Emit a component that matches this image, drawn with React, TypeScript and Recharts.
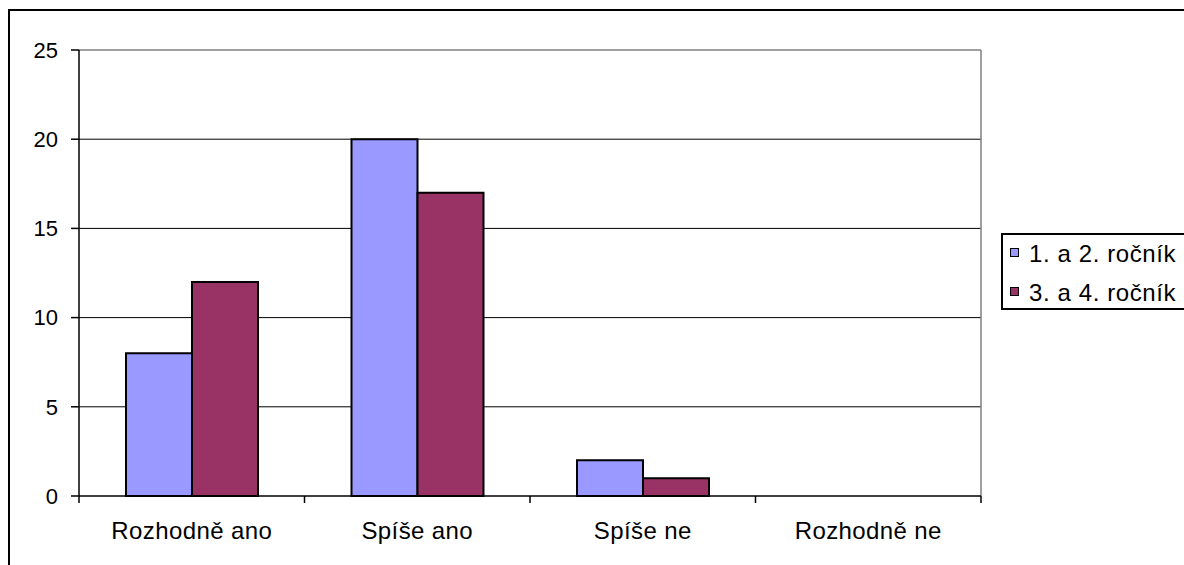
import React from 'react';
import { BarChart, Bar, XAxis, YAxis, CartesianGrid, Legend } from 'recharts';

const categories = ['Rozhodně ano', 'Spíše ano', 'Spíše ne', 'Rozhodně ne'];
const series1Name = '1. a 2. ročník';
const series1Values = [8, 20, 2, 0];
const series2Name = '3. a 4. ročník';
const series2Values = [12, 17, 1, 0];
const yTicks = [0, 5, 10, 15, 20, 25];

const COLOR1 = '#9999FF';
const COLOR2 = '#993366';
const FONT = '"Liberation Sans", Arial, sans-serif';
const FS_Y = 22;
const FS_X = 24;
const FS_L = 24;

const data = categories.map((c, i) => ({ cat: c, s1: series1Values[i], s2: series2Values[i] }));
const legendItems = [
  { name: series1Name, color: COLOR1 },
  { name: series2Name, color: COLOR2 },
];

const XTick = (props: any) => {
  const { x, y, payload, index, visibleTicksCount, width } = props;
  const band = Number(width) / visibleTicksCount;
  const left = x - band / 2;
  return (
    <g>
      <line x1={left} x2={left} y1={y} y2={y + 7} stroke="#000" strokeWidth={1.5} />
      {index === visibleTicksCount - 1 && (
        <line x1={left + band} x2={left + band} y1={y} y2={y + 7} stroke="#000" strokeWidth={1.5} />
      )}
      <text
        x={x}
        y={y + 34}
        dy="0.355em"
        textAnchor="middle"
        fill="#000"
        fontSize={FS_X}
        fontFamily={FONT}
        letterSpacing={0.4}
      >
        {payload.value}
      </text>
    </g>
  );
};

const renderLegend = () => (
  <div
    style={{
      border: '2px solid #000',
      background: '#fff',
      boxSizing: 'border-box',
      height: 77,
      width: 260,
      minWidth: 260,
      paddingTop: 4,
      fontFamily: FONT,
      fontSize: FS_L,
      letterSpacing: 0.6,
      color: '#000',
      whiteSpace: 'nowrap',
    }}
  >
    {legendItems.map((it) => (
      <div key={it.name} style={{ display: 'flex', alignItems: 'center', height: 30, marginBottom: 9, paddingLeft: 7 }}>
        <span
          style={{
            display: 'inline-block',
            width: 7,
            height: 7,
            background: it.color,
            border: '1px solid #000',
            marginRight: 10,
            marginTop: -3,
          }}
        />
        <span>{it.name}</span>
      </div>
    ))}
  </div>
);

export default function App() {
  return (
    <div style={{ position: 'absolute', left: 0, top: 0, width: 1184, height: 565, overflow: 'hidden', background: '#fff' }}>
      <div
        style={{
          position: 'absolute',
          left: 8,
          top: 9,
          width: 1300,
          height: 700,
          borderLeft: '2px solid #000',
          borderTop: '2px solid #000',
        }}
      />
      <div style={{ position: 'absolute', left: 0, top: 0 }}>
        <BarChart
          width={1184}
          height={565}
          data={data}
          margin={{ top: 50, right: 203, bottom: 9, left: 0 }}
          barCategoryGap={47}
          barGap={0}
          style={{ overflow: 'visible' }}
        >
          <CartesianGrid vertical={false} horizontalValues={[5, 10, 15, 20]} stroke="#000" strokeWidth={1} />
          <CartesianGrid
            horizontalValues={[25]}
            verticalCoordinatesGenerator={(p: any) => [p.offset.left + p.offset.width]}
            stroke="#808080"
            strokeWidth={1.5}
          />
          <XAxis
            dataKey="cat"
            height={60}
            tickLine={false}
            tickSize={0}
            tickMargin={0}
            axisLine={{ stroke: '#000', strokeWidth: 1.5 }}
            tick={<XTick />}
            interval={0}
          />
          <YAxis
            width={79}
            domain={[0, 25]}
            ticks={yTicks}
            tickSize={8}
            tickMargin={13}
            axisLine={{ stroke: '#000', strokeWidth: 1.5 }}
            tickLine={{ stroke: '#000', strokeWidth: 1.5 }}
            tick={{ fill: '#000', fontSize: FS_Y, fontFamily: FONT }}
            interval={0}
          />
          <Bar dataKey="s1" name={series1Name} fill={COLOR1} stroke="#000" strokeWidth={2} isAnimationActive={false} />
          <Bar dataKey="s2" name={series2Name} fill={COLOR2} stroke="#000" strokeWidth={2} isAnimationActive={false} />
          <Legend
            layout="vertical"
            align="center"
            verticalAlign="middle"
            wrapperStyle={{ left: 1001, top: 233, width: 260 }}
            content={renderLegend}
          />
        </BarChart>
      </div>
    </div>
  );
}
